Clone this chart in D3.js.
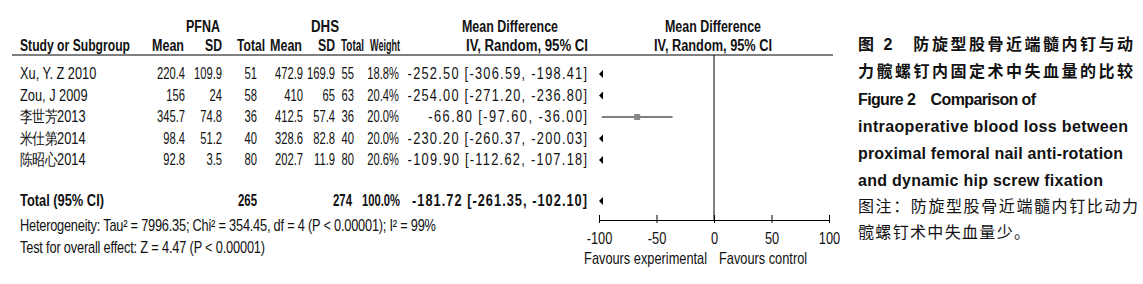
<!DOCTYPE html>
<html>
<head>
<meta charset="utf-8">
<script src="https://cdn.jsdelivr.net/npm/d3@7"></script>
<style>
  body { margin: 0; background: #fff; }
  svg text { fill: #111; }
  .tbl { font-family: "Liberation Sans", Arial, sans-serif; font-size: 16px; }
  .b { font-weight: bold; }
  .cap { font-family: "Liberation Sans", Arial, "Noto Sans CJK SC", sans-serif; }
</style>
</head>
<body>
<div id="chart"></div>
<script>
// study data
var studies   = ["Xu, Y. Z 2010", "Zou, J 2009", "李世芳2013", "米仕第2014", "陈昭心2014"];
var pfnaMean  = [220.4, 156, 345.7, 98.4, 92.8];
var pfnaSD    = [109.9, 24, 74.8, 51.2, 3.5];
var pfnaN     = [51, 58, 36, 40, 80];
var dhsMean   = [472.9, 410, 412.5, 328.6, 202.7];
var dhsSD     = [169.9, 65, 57.4, 82.8, 11.9];
var dhsN      = [55, 63, 36, 40, 80];
var weights   = ["18.8%", "20.4%", "20.0%", "20.0%", "20.6%"];
var md        = [-252.50, -254.00, -66.80, -230.20, -109.90];
var ciLow     = [-306.59, -271.20, -97.60, -260.37, -112.62];
var ciHigh    = [-198.41, -236.80, -36.00, -200.03, -107.18];

// pooled result
var totalN    = [265, 274];
var totalMD   = [-181.72, -261.35, -102.10];
var hetText   = "Heterogeneity: Tau² = 7996.35; Chi² = 354.45, df = 4 (P < 0.00001); I² = 99%";
var testText  = "Test for overall effect: Z = 4.47  (P < 0.00001)";

var axisTicks = [-100, -50, 0, 50, 100];

var captionBold = ["图 2　防旋型股骨近端髓内钉与动", "力髋螺钉内固定术中失血量的比较"];
var captionEn   = ["Figure 2　Comparison of", "intraoperative blood loss between",
                   "proximal femoral nail anti-rotation", "and dynamic hip screw fixation"];
var captionNote = ["图注：防旋型股骨近端髓内钉比动力", "髋螺钉术中失血量少。"];

var width = 1143, height = 284;
var sx = 0.8;   // narrow font look
var sxNum = 0.7; // digits are narrower still

var svg = d3.select("#chart")
  .append("svg")
    .attr("width", width)
    .attr("height", height);

var x = d3.scaleLinear().domain([-100, 100]).range([599, 829]);

// row positions
var rowY = d3.scalePoint().domain(d3.range(studies.length)).range([79, 165]);

var tbl = svg.append("g").attr("class", "tbl");

function put(txt, xx, yy, anchor, bold, len, s) {
  s = s || sx;
  var t = tbl.append("text")
    .attr("transform", "translate(" + xx + "," + yy + ") scale(" + s + ",1)")
    .attr("text-anchor", anchor || "start")
    .attr("class", bold ? "b" : null)
    .text(txt);
  if (len) t.attr("textLength", len / s).attr("lengthAdjust", "spacing");
  return t;
}
function num(v, xx, yy) {
  return put(String(v), xx, yy, "end", false, null, sxNum);
}
// squeezed header text
function head(txt, xx, yy, anchor, len) {
  return tbl.append("text")
    .attr("x", xx).attr("y", yy)
    .attr("text-anchor", anchor || "start")
    .attr("class", "b")
    .attr("textLength", len)
    .attr("lengthAdjust", "spacingAndGlyphs")
    .text(txt);
}

// headers
head("PFNA", 203, 32, "middle", 34);
head("DHS", 325, 32, "middle", 28);
head("Mean Difference", 510, 32, "middle", 96);
head("Mean Difference", 713, 32, "middle", 96);

head("Study or Subgroup", 20, 51, "start", 110);
head("Mean", 184, 51, "end", 32);
head("SD", 222, 51, "end", 17);
head("Total", 265, 51, "end", 28);
head("Mean", 302, 51, "end", 32);
head("SD", 335, 51, "end", 17);
head("Total", 364, 51, "end", 23);
head("Weight", 400, 51, "end", 30);
head("IV, Random, 95% CI", 588, 51, "end", 122);
head("IV, Random, 95% CI", 713, 51, "middle", 118);

svg.append("line")
  .attr("x1", 12).attr("x2", 833)
  .attr("y1", 55).attr("y2", 55)
  .attr("stroke", "#000").attr("stroke-width", 1);

// study rows
studies.forEach(function(s, i) {
  var yy = rowY(i);
  put(s, 20, yy);
  num(pfnaMean[i], 185, yy);
  num(pfnaSD[i], 222, yy);
  num(pfnaN[i], 257, yy);
  num(dhsMean[i], 303, yy);
  num(dhsSD[i], 335, yy);
  num(dhsN[i], 354, yy);
  num(weights[i], 399, yy);
  var ci = md[i].toFixed(2) + " [" + ciLow[i].toFixed(2) + ", " + ciHigh[i].toFixed(2) + "]";
  put(ci, 587, yy, "end", false, ci.length * 6.9);
});

// total row
var totY = 206;
head("Total (95% CI)", 20, totY, "start", 84);
head(String(totalN[0]), 257, totY, "end", 19);
head(String(totalN[1]), 352, totY, "end", 19);
head("100.0%", 400, totY, "end", 38);
var totCI = totalMD[0].toFixed(2) + " [" + totalMD[1].toFixed(2) + ", " + totalMD[2].toFixed(2) + "]";
put(totCI, 587, totY, "end", true, 175);
put(hetText, 20, 231, "start", false, 416);
put(testText, 20, 253, "start", false, 245);

// zero line
svg.append("line")
  .attr("x1", x(0)).attr("x2", x(0))
  .attr("y1", 55).attr("y2", 220)
  .attr("stroke", "#000");

// study marks
var marks = svg.append("g");
function arrowLeft(yy) {
  var x0 = x(-100);
  marks.append("path")
    .attr("d", "M" + x0 + "," + yy + "L" + (x0 + 4) + "," + (yy - 4) + "L" + (x0 + 4) + "," + (yy + 4) + "Z")
    .attr("fill", "#000");
}
studies.forEach(function(s, i) {
  var yy = rowY(i) - 5;
  if (ciHigh[i] < -100) {
    arrowLeft(yy);
  } else {
    marks.append("line")
      .attr("x1", x(Math.max(ciLow[i], -100))).attr("x2", x(Math.min(ciHigh[i], 100)))
      .attr("y1", yy).attr("y2", yy)
      .attr("stroke", "#000");
    marks.append("rect")
      .attr("x", x(md[i]) - 3).attr("y", yy - 3)
      .attr("width", 6).attr("height", 6)
      .attr("fill", "#888");
  }
});
if (totalMD[2] < -100) arrowLeft(totY - 5);

// axis
var ax = svg.append("g")
  .attr("transform", "translate(0,220)")
  .call(d3.axisBottom(x).tickValues(axisTicks).tickSizeOuter(0).tickSize(0)
    .tickFormat(function(d) { return String(d); }));
ax.select(".domain").attr("stroke", "#000");
ax.selectAll(".tick line").attr("y1", -5).attr("y2", 3).attr("stroke", "#000");
ax.selectAll(".tick text")
  .attr("y", null).attr("dy", null)
  .attr("transform", "translate(0,24) scale(" + sx + ",1)")
  .attr("font-family", "Liberation Sans, Arial, sans-serif")
  .attr("font-size", 16)
  .attr("fill", "#111");

put("Favours experimental", 707, 264, "end");
put("Favours control", 719, 264, "start");

// caption
var cap = svg.append("g").attr("class", "cap");
var capLines = [
  {t: captionBold[0], y: 50, w: 275, fs: 16, bold: true},
  {t: captionBold[1], y: 77, w: 275, fs: 16, bold: true},
  {t: captionEn[0], y: 105, w: 178, fs: 16, bold: true},
  {t: captionEn[1], y: 132, w: 270, fs: 16, bold: true},
  {t: captionEn[2], y: 159, w: 265, fs: 16, bold: true},
  {t: captionEn[3], y: 186, w: 245, fs: 16, bold: true},
  {t: captionNote[0], y: 212, w: 280, fs: 16, bold: false},
  {t: captionNote[1], y: 238, w: 172, fs: 16, bold: false}
];
capLines.forEach(function(d) {
  cap.append("text")
    .attr("x", 858).attr("y", d.y)
    .attr("font-size", d.fs)
    .attr("font-weight", d.bold ? "bold" : "normal")
    .attr("textLength", d.w)
    .attr("lengthAdjust", "spacing")
    .text(d.t);
});
</script>
</body>
</html>
